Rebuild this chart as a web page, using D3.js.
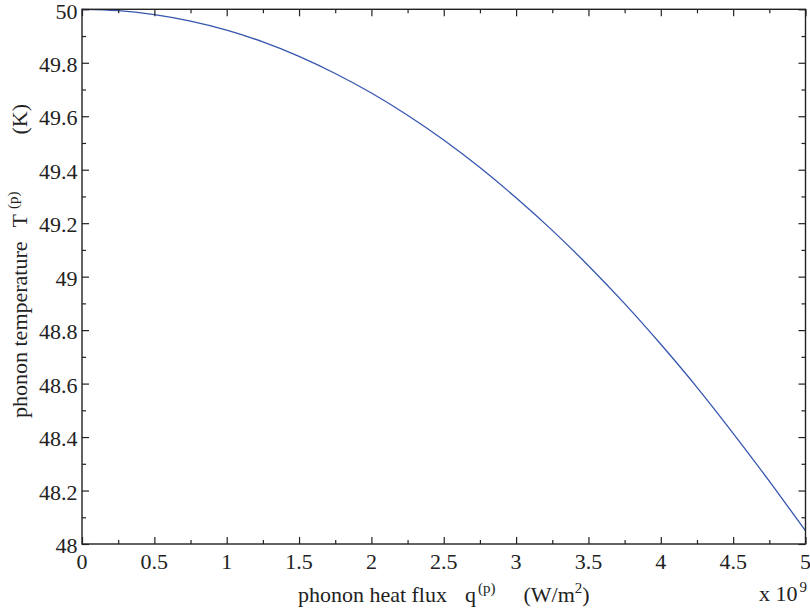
<!DOCTYPE html>
<html>
<head>
<meta charset="utf-8">
<script src="https://cdn.jsdelivr.net/npm/d3@7"></script>
<style>
  html, body { margin: 0; padding: 0; background: #fff; }
  svg { display: block; }
  text { font-family: "Liberation Serif", "Times New Roman", serif; fill: #222; }
</style>
</head>
<body>
<svg id="chart" width="810" height="609"></svg>
<script>
// Data (x in units of 1e9 W/m^2, y in K)
const heatFlux = [0, 0.25, 0.5, 0.75, 1, 1.25, 1.5, 1.75, 2, 2.25, 2.5, 2.75, 3, 3.25, 3.5, 3.75, 4, 4.25, 4.5, 4.75, 5];
const phononTemp = [50.000, 49.995, 49.980, 49.956, 49.922, 49.878, 49.824, 49.760, 49.687, 49.604, 49.511, 49.408, 49.295, 49.173, 49.041, 48.899, 48.747, 48.586, 48.414, 48.235, 48.050];
const xTickValues = [0, 0.5, 1, 1.5, 2, 2.5, 3, 3.5, 4, 4.5, 5];
const xTickLabels = ["0", "0.5", "1", "1.5", "2", "2.5", "3", "3.5", "4", "4.5", "5"];
const yTickValues = [48, 48.2, 48.4, 48.6, 48.8, 49, 49.2, 49.4, 49.6, 49.8, 50];
const yTickLabels = ["48", "48.2", "48.4", "48.6", "48.8", "49", "49.2", "49.4", "49.6", "49.8", "50"];
const xMinorTicks = [0.25, 0.75, 1.25, 1.75, 2.25, 2.75, 3.25, 3.75, 4.25, 4.75];
const yMinorTicks = [48.1, 48.3, 48.5, 48.7, 48.9, 49.1, 49.3, 49.5, 49.7, 49.9];

const FONT = '"Liberation Serif", "Times New Roman", serif';
const svg = d3.select("#chart");
const L = 82, R = 805.5, T = 9.3, B = 544;
const x = d3.scaleLinear().domain([0, 5]).range([L, R]);
const y = d3.scaleLinear().domain([48, 50]).range([B, T]);
const ink = "#222";
const majorLen = 7, minorLen = 4;

// curve
svg.append("path")
  .datum(heatFlux.map((q, i) => [q, phononTemp[i]]))
  .attr("fill", "none")
  .attr("stroke", "#3656b0")
  .attr("stroke-width", 1.3)
  .attr("d", d3.line().x(d => x(d[0])).y(d => y(d[1])).curve(d3.curveNatural));

// axes with inward ticks on all four sides
function tickAxis(axisGen, transform, values, len) {
  const g = svg.append("g").attr("transform", transform)
    .call(axisGen.tickValues(values).tickSize(len).tickFormat(""));
  g.select(".domain").remove();
  g.selectAll(".tick line").attr("stroke", ink).attr("stroke-width", 1.2);
  return g;
}
tickAxis(d3.axisTop(x), `translate(0,${B})`, xTickValues, majorLen);
tickAxis(d3.axisTop(x), `translate(0,${B})`, xMinorTicks, minorLen);
tickAxis(d3.axisBottom(x), `translate(0,${T})`, xTickValues, majorLen);
tickAxis(d3.axisBottom(x), `translate(0,${T})`, xMinorTicks, minorLen);
tickAxis(d3.axisRight(y), `translate(${L},0)`, yTickValues, majorLen);
tickAxis(d3.axisRight(y), `translate(${L},0)`, yMinorTicks, minorLen);
tickAxis(d3.axisLeft(y), `translate(${R},0)`, yTickValues, majorLen);
tickAxis(d3.axisLeft(y), `translate(${R},0)`, yMinorTicks, minorLen);

// frame
svg.append("rect")
  .attr("x", L).attr("y", T).attr("width", R - L).attr("height", B - T)
  .attr("fill", "none").attr("stroke", ink).attr("stroke-width", 1.4);

// tick labels
svg.append("g").selectAll("text").data(xTickValues).join("text")
  .attr("x", d => x(d)).attr("y", B + 25)
  .attr("text-anchor", "middle").attr("font-size", 22).attr("font-family", FONT)
  .text((d, i) => xTickLabels[i]);
svg.append("g").selectAll("text").data(yTickValues).join("text")
  .attr("x", L - 4.5).attr("y", d => Math.max(y(d) + 9, 19))
  .attr("text-anchor", "end").attr("font-size", 22).attr("font-family", FONT)
  .text((d, i) => yTickLabels[i]);

// x label
const xl = svg.append("text")
  .attr("x", (L + R) / 2).attr("y", 601.5)
  .attr("text-anchor", "middle").attr("font-size", 22).attr("font-family", FONT);
xl.append("tspan").text("phonon heat flux");
xl.append("tspan").attr("dx", 18).text("q");
xl.append("tspan").attr("dx", 2).attr("dy", -9).attr("font-size", 15).text("(p)");
xl.append("tspan").attr("dx", 28).attr("dy", 9).text("(W/m");
xl.append("tspan").attr("dy", -9).attr("font-size", 15).text("2");
xl.append("tspan").attr("dy", 9).text(")");

// exponent
const ex = svg.append("text").attr("x", 759).attr("y", 600.5).attr("font-size", 22).attr("font-family", FONT);
ex.append("tspan").text("x 10");
ex.append("tspan").attr("dx", 2).attr("dy", -9).attr("font-size", 15).text("9");

// y label
const yl = svg.append("text")
  .attr("transform", `translate(27,418) rotate(-90)`)
  .attr("text-anchor", "start").attr("font-size", 22).attr("font-family", FONT);
yl.append("tspan").text("phonon temperature");
yl.append("tspan").attr("dx", 14).text("T");
yl.append("tspan").attr("dx", 5).attr("dy", -9).attr("font-size", 15).text("(p)");
yl.append("tspan").attr("dx", 57).attr("dy", 9).text("(K)");
</script>
</body>
</html>
